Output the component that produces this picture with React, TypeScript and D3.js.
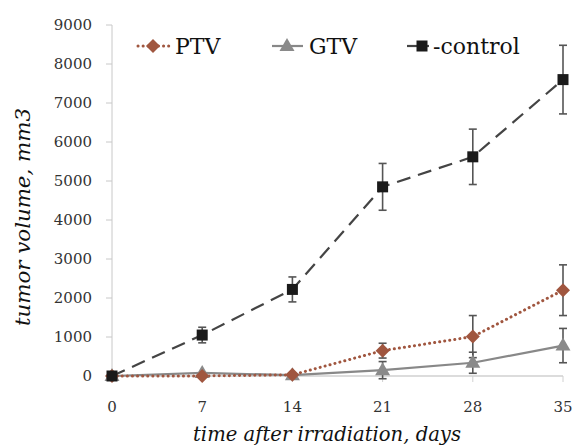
import React, { useRef, useEffect } from 'react';
import * as d3 from 'd3';

const days = [0, 7, 14, 21, 28, 35];
const yTicks = [0, 1000, 2000, 3000, 4000, 5000, 6000, 7000, 8000, 9000];

const ptv = [0, 0, 30, 650, 1010, 2200];
const ptvErr = [0, 0, 0, 190, 540, 650];
const gtv = [0, 80, 20, 150, 340, 780];
const gtvErr = [0, 0, 0, 220, 270, 440];
const control = [0, 1050, 2220, 4850, 5620, 7600];
const controlErr = [0, 200, 320, 600, 710, 880];

const App = () => {
  const ref = useRef<SVGSVGElement>(null);

  useEffect(() => {
    const svg = d3.select(ref.current);
    svg.selectAll('*').remove();

    const x = d3.scaleLinear().domain([0, 35]).range([112, 563]);
    const y = d3.scaleLinear().domain([0, 9000]).range([376, 25]);
    const font = 'DejaVu Serif, Liberation Serif, serif';

    // y axis
    svg.append('line').attr('x1', 112).attr('x2', 112).attr('y1', y(9000)).attr('y2', y(0))
      .attr('stroke', '#c8c8c8').attr('stroke-width', 1);
    yTicks.forEach((t) => {
      svg.append('line').attr('x1', 106).attr('x2', 112).attr('y1', y(t)).attr('y2', y(t))
        .attr('stroke', '#c8c8c8');
      svg.append('text').attr('x', 92).attr('y', y(t)).attr('dy', '0.35em')
        .attr('text-anchor', 'end').style('font-family', font).attr('font-size', 15)
        .attr('fill', '#333').text(t);
    });

    // x axis
    svg.append('line').attr('x1', x(0)).attr('x2', x(35)).attr('y1', y(0)).attr('y2', y(0))
      .attr('stroke', '#d0d0d0').attr('stroke-width', 1.5);
    days.forEach((d) => {
      svg.append('line').attr('x1', x(d)).attr('x2', x(d)).attr('y1', y(0)).attr('y2', y(0) + 6)
        .attr('stroke', '#d0d0d0');
      svg.append('text').attr('x', x(d)).attr('y', 412).attr('text-anchor', 'middle')
        .style('font-family', font).attr('font-size', 15).attr('fill', '#333').text(d);
    });

    svg.append('text').attr('x', 327).attr('y', 441).attr('text-anchor', 'middle')
      .style('font-family', font).attr('font-size', 20).attr('font-style', 'italic')
      .attr('textLength', 268).attr('lengthAdjust', 'spacingAndGlyphs')
      .attr('fill', '#111').text('time after irradiation, days');
    svg.append('text').attr('transform', 'translate(23,217) rotate(-90)').attr('dy', '0.35em')
      .attr('text-anchor', 'middle').style('font-family', font).attr('font-size', 20)
      .attr('textLength', 218).attr('lengthAdjust', 'spacingAndGlyphs')
      .attr('font-style', 'italic').attr('fill', '#111').text('tumor volume, mm3');

    const line = d3.line<number>().x((_, i) => x(days[i])).y((v) => y(v));

    const series = [
      { vals: gtv, err: gtvErr, color: '#888888', dash: null, width: 2.2, marker: 'tri' },
      { vals: ptv, err: ptvErr, color: '#a0563f', dash: '2.5,4', width: 3, marker: 'dia' },
      { vals: control, err: controlErr, color: '#444444', dash: '14,8', width: 2.2, marker: 'sq' },
    ];

    const drawMarker = (g: any, kind: string, cx: number, cy: number, color: string) => {
      if (kind === 'sq') {
        g.append('rect').attr('x', cx - 5.5).attr('y', cy - 5.5).attr('width', 11).attr('height', 11)
          .attr('fill', '#1a1a1a');
      } else if (kind === 'dia') {
        g.append('path').attr('d', `M${cx},${cy - 7}L${cx + 7},${cy}L${cx},${cy + 7}L${cx - 7},${cy}Z`)
          .attr('fill', color);
      } else {
        g.append('path').attr('d', `M${cx},${cy - 8}L${cx + 7.5},${cy + 5}L${cx - 7.5},${cy + 5}Z`)
          .attr('fill', '#8a8a8a');
      }
    };

    series.forEach((s) => {
      const p = svg.append('path').datum(s.vals).attr('d', line).attr('fill', 'none')
        .attr('stroke', s.color).attr('stroke-width', s.width);
      if (s.dash) p.attr('stroke-dasharray', s.dash);
      if (s.marker === 'dia') p.attr('stroke-linecap', 'round').attr('stroke-dasharray', '0.1,5');
    });

    // error bars
    series.forEach((s) => {
      s.vals.forEach((v, i) => {
        if (!s.err[i]) return;
        const cx = x(days[i]);
        const g = svg.append('g').attr('stroke', '#555').attr('stroke-width', 1.6);
        g.append('line').attr('x1', cx).attr('x2', cx).attr('y1', y(v + s.err[i])).attr('y2', y(v - s.err[i]));
        [v + s.err[i], v - s.err[i]].forEach((e) => {
          g.append('line').attr('x1', cx - 4).attr('x2', cx + 4).attr('y1', y(e)).attr('y2', y(e));
        });
      });
    });

    series.forEach((s) => {
      s.vals.forEach((v, i) => drawMarker(svg, s.marker, x(days[i]), y(v), s.color));
    });

    // legend
    const legend = [
      { label: 'PTV', x0: 138, s: series[1] },
      { label: 'GTV', x0: 272, s: series[0] },
      { label: '-control', x0: 407, s: series[2] },
    ];
    legend.forEach((l) => {
      const ly = 46;
      const ln = svg.append('line').attr('x1', l.x0).attr('x2', l.x0 + (l.label === '-control' ? 22 : 31))
        .attr('y1', ly).attr('y2', ly).attr('stroke', l.s.color).attr('stroke-width', l.s.width);
      if (l.s.marker === 'dia') ln.attr('stroke-linecap', 'round').attr('stroke-dasharray', '0.1,5');
      drawMarker(svg, l.s.marker, l.x0 + 15, ly, l.s.color);
      svg.append('text').attr('x', l.x0 + (l.label === '-control' ? 26 : 37)).attr('y', ly).attr('dy', '0.35em')
        .style('font-family', font).attr('font-size', 22).attr('fill', '#111').text(l.label);
    });
  }, []);

  return <svg ref={ref} width={576} height={448} style={{ position: 'absolute', left: 0, top: 0, background: '#fff' }} />;
};

export default App;
